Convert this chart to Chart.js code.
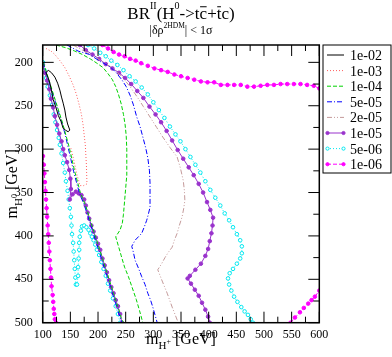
<!DOCTYPE html>
<html>
<head>
<meta charset="utf-8">
<script src="https://cdn.jsdelivr.net/npm/chart.js@4.4.1/dist/chart.umd.min.js"></script>
<style>
  html, body { margin: 0; padding: 0; background: #fff; }
</style>
</head>
<body>
<canvas id="contours" width="392" height="357"></canvas>
<script>
// contour levels of BR and the axis ticks
const levels = ['1e-02', '1e-03', '1e-04', '5e-05', '2e-05', '1e-05', '5e-06', '1e-06'];
const xTicks = [100, 150, 200, 250, 300, 350, 400, 450, 500, 550, 600];
const yTicks = [200, 250, 300, 350, 400, 450, 500];

// 1e-02
const br1e02LoopX = [110, 116, 122, 127, 131, 134, 137, 140, 142, 145, 149, 146, 141, 137, 133, 128, 124, 119, 116, 113, 110, 106, 110];
const br1e02LoopY = [209, 212, 217, 224, 232, 240, 247, 255, 263, 271, 278, 280, 278, 276, 268, 261, 252, 243, 233, 224, 218, 212, 209];
// 1e-03
const br1e03X = [106, 115, 122, 131, 140, 148, 155, 161, 166, 170, 173, 175, 177, 178, 179, 180, 174, 167, 165, 162, 159, 156, 151];
const br1e03Y = [184, 187, 191, 198, 206, 216, 226, 237, 249, 260, 272, 284, 295, 307, 318, 340, 342, 342, 336, 330, 321, 312, 299];
// 1e-04
const br1e04RightX = [124, 141, 158, 172, 186, 198, 209, 218, 226, 232, 237, 242, 246, 249, 251, 252, 252, 252, 250, 248, 246, 244, 240, 232, 237, 242, 248, 255, 262, 269, 275, 281];
const br1e04RightY = [180, 183, 187, 191, 196, 201, 206, 213, 220, 228, 237, 248, 260, 272, 285, 300, 315, 330, 345, 360, 375, 385, 393, 401, 412, 423, 436, 447, 460, 473, 486, 500];
const br1e04BandX = [101, 106, 112, 118, 124, 130, 136, 142, 148, 153, 158, 163, 168, 173, 178, 183, 188, 193, 198, 203, 208, 213, 218, 223, 228, 233, 238, 242, 246];
const br1e04BandY = [200, 210, 222, 234, 246, 258, 270, 284, 298, 312, 326, 338, 350, 358, 366, 376, 386, 396, 406, 416, 426, 436, 446, 456, 466, 476, 486, 494, 500];
// 5e-05
const br5e05RightX = [144, 164, 185, 204, 222, 233, 243, 251, 258, 264, 270, 276, 281, 286, 290, 293, 294, 294, 294, 291, 288, 284, 279, 273, 267, 261, 264, 267, 273, 279, 285, 290, 295, 299, 303, 307];
const br5e05RightY = [180, 187, 191, 199, 205, 212, 220, 228, 238, 249, 263, 274, 286, 298, 310, 325, 339, 353, 367, 375, 382, 389, 397, 401, 405, 412, 419, 428, 437, 447, 456, 466, 474, 482, 491, 500];
const br5e05BandX = [101, 105, 111, 117, 123, 129, 135, 141, 146, 151, 156, 161, 166, 171, 176, 181, 186, 191, 196, 201, 206, 211, 216, 221, 226, 231, 236, 240, 244];
const br5e05BandY = [200, 210, 222, 234, 246, 258, 270, 284, 298, 312, 326, 338, 350, 358, 366, 376, 386, 396, 406, 416, 426, 436, 446, 456, 466, 476, 486, 494, 500];
// 2e-05
const br2e05RightX = [155, 175, 195, 213, 231, 245, 258, 271, 282, 294, 306, 317, 330, 343, 349, 354, 356, 357, 355, 352, 347, 343, 338, 334, 327, 321, 315, 308, 316, 325, 334, 345];
const br2e05RightY = [180, 187, 194, 201, 209, 218, 228, 240, 251, 263, 275, 286, 298, 309, 322, 336, 347, 359, 368, 378, 388, 397, 405, 413, 419, 425, 432, 439, 452, 466, 482, 500];
// 1e-05
const br1e05RightX = [167, 178, 190, 202, 214, 226, 238, 249, 260, 271, 282, 293, 304, 314, 324, 334, 344, 354, 364, 373, 382, 390, 397, 403, 408, 407, 405, 402, 399, 394, 386, 376, 366, 362, 368, 375, 382, 388, 394, 399, 402];
const br1e05RightY = [180, 186, 191, 196, 202, 207, 212, 218, 225, 233, 241, 251, 260, 269, 279, 290, 301, 311, 321, 330, 340, 350, 361, 370, 379, 388, 397, 406, 415, 423, 432, 439, 446, 449, 455, 462, 469, 477, 485, 493, 500];
const br1e05LeftX = [100.5, 104, 108, 112, 115, 119, 122, 126, 130, 134, 137, 140, 144, 148, 150, 151, 149, 154, 160, 165, 170, 175, 178, 181, 184, 188, 192, 196, 200, 204, 208, 212, 216, 220, 224, 228, 232, 236, 240, 243];
const br1e05LeftY = [203, 212, 221, 231, 242, 252, 262, 272, 282, 291, 300, 307, 315, 324, 334, 346, 358, 352, 349, 351, 353, 358, 365, 373, 380, 388, 395, 402, 409, 416, 426, 434, 442, 451, 459, 466, 474, 481, 490, 500];
// 5e-06
const br5e06RightX = [182, 193, 204, 214, 224, 235, 246, 257, 268, 279, 290, 300, 310, 320, 330, 340, 349, 358, 367, 376, 385, 394, 403, 412, 421, 429, 437, 444, 451, 457, 460, 460, 457, 451, 444, 438, 435, 437, 441, 446, 452, 459, 465, 471, 476, 480];
const br5e06RightY = [180, 184, 189, 193, 198, 203, 209, 216, 222, 229, 237, 246, 255, 264, 274, 283, 291, 300, 309, 318, 327, 337, 347, 356, 365, 374, 382, 390, 398, 405, 412, 420, 426, 432, 438, 443, 449, 456, 463, 470, 476, 482, 487, 491, 496, 500];
const br5e06LeftX = [100.5, 103, 106, 109, 113, 117, 120, 123, 126, 129, 131, 134, 137, 140, 142, 145, 147, 149, 151, 152, 153, 155, 156, 157, 158, 159, 160, 162, 164, 164, 165, 166, 166, 167, 169, 171, 175, 179, 183, 186, 189, 192, 195, 198, 202, 206, 210, 214, 218, 222, 227, 232, 236, 240];
const br5e06LeftY = [200, 209, 218, 228, 238, 249, 260, 269, 278, 287, 295, 305, 316, 327, 337, 348, 358, 368, 378, 388, 398, 408, 418, 428, 438, 448, 456, 456, 446, 436, 426, 416, 408, 401, 394, 389, 388, 390, 393, 397, 401, 405, 410, 416, 422, 430, 438, 446, 455, 463, 472, 481, 490, 500];
// 1e-06
const br1e06TopX = [208, 218, 228, 238, 248, 258, 268, 278, 290, 302, 314, 326, 338, 350, 362, 374, 386, 398, 410, 422, 434, 446, 458, 470, 482, 494, 506, 518, 530, 542, 554, 566, 578, 590, 600];
const br1e06TopY = [180, 184, 188, 191, 193, 196, 198, 201, 204, 207, 209, 211, 214, 216, 218, 220, 222, 223, 223, 226, 226, 226, 226, 228, 228, 227, 226, 226, 225, 225, 225, 225, 226, 227, 230];
const br1e06LeftX = [100.5, 102, 103, 104, 105, 106, 107, 108, 109, 110, 111, 112, 113, 114, 115, 116, 118, 119, 120, 121, 122, 124];
const br1e06LeftY = [308, 318, 328, 338, 348, 358, 368, 378, 388, 398, 408, 418, 428, 438, 448, 458, 468, 476, 484, 490, 496, 500];
const br1e06CornerX = [548, 556, 565, 572, 580, 586, 592, 600];
const br1e06CornerY = [500, 494, 488, 483, 478, 474, 470, 463];

const segments = {
    '1e-02': [[br1e02LoopX, br1e02LoopY]],
    '1e-03': [[br1e03X, br1e03Y]],
    '1e-04': [[br1e04RightX, br1e04RightY], [br1e04BandX, br1e04BandY]],
    '5e-05': [[br5e05RightX, br5e05RightY], [br5e05BandX, br5e05BandY]],
    '2e-05': [[br2e05RightX, br2e05RightY]],
    '1e-05': [[br1e05RightX, br1e05RightY], [br1e05LeftX, br1e05LeftY]],
    '5e-06': [[br5e06RightX, br5e06RightY], [br5e06LeftX, br5e06LeftY]],
    '1e-06': [[br1e06TopX, br1e06TopY], [br1e06LeftX, br1e06LeftY], [br1e06CornerX, br1e06CornerY]]
};

const styles = {
    '1e-02': { color: '#000000', dash: [], marker: null },
    '1e-03': { color: '#ff5c5c', dash: [1, 2], marker: null },
    '1e-04': { color: '#00d200', dash: [4, 2], marker: null },
    '5e-05': { color: '#0000ff', dash: [5, 2, 1, 2], marker: null },
    '2e-05': { color: '#c49a9a', dash: [5, 2, 1, 2, 1, 2], marker: null },
    '1e-05': { color: '#9932cc', dash: [], marker: 'fill' },
    '5e-06': { color: '#00e8f0', dash: [1, 2], marker: 'open' },
    '1e-06': { color: '#ff00ff', dash: [4, 2], marker: 'fill' }
};

const SERIF = '"Liberation Serif", "Times New Roman", serif';

const datasets = [];
levels.forEach(function (lv) {
    const st = styles[lv];
    segments[lv].forEach(function (seg) {
        datasets.push({
            label: lv,
            data: seg[0].map((x, i) => ({ x: x, y: seg[1][i] })),
            showLine: true,
            borderColor: st.color,
            borderWidth: 1,
            borderDash: st.dash,
            pointRadius: st.marker ? 1.8 : 0,
            pointHoverRadius: 0,
            pointStyle: 'circle',
            pointBackgroundColor: st.marker === 'open' ? '#ffffff' : st.color,
            pointBorderColor: st.color,
            pointBorderWidth: 1
        });
    });
});

// draw text made of runs: [text, size, dy, overline]
function drawRuns(ctx, runs, x0, base, center) {
    let total = 0;
    runs.forEach(function (r) {
        ctx.font = r[1] + 'px ' + SERIF;
        r.w = ctx.measureText(r[0]).width;
        total += r.w;
    });
    let x = center ? x0 - total / 2 : x0;
    runs.forEach(function (r) {
        ctx.font = r[1] + 'px ' + SERIF;
        ctx.fillText(r[0], x, base + r[2]);
        if (r[3]) {
            const oy = base + r[2] - r[1] * 0.72;
            ctx.beginPath();
            ctx.moveTo(x + 0.5, oy);
            ctx.lineTo(x + r.w - 0.5, oy);
            ctx.lineWidth = 1;
            ctx.stroke();
        }
        x += r.w;
    });
}

const decor = {
    id: 'decor',
    afterDraw(chart) {
        const ctx = chart.ctx;
        const a = chart.chartArea;
        const xs = chart.scales.x, ys = chart.scales.y;
        ctx.save();
        ctx.strokeStyle = '#000';
        ctx.fillStyle = '#000';
        ctx.setLineDash([]);

        // frame
        ctx.lineWidth = 1.5;
        ctx.strokeRect(a.left, a.top, a.right - a.left, a.bottom - a.top);

        // inward ticks, major every 50, minor every 25
        ctx.lineWidth = 1;
        ctx.beginPath();
        for (let v = 100; v <= 600; v += 25) {
            const px = xs.getPixelForValue(v);
            const len = v % 50 === 0 ? 11 : 6;
            ctx.moveTo(px, a.bottom); ctx.lineTo(px, a.bottom - len);
            ctx.moveTo(px, a.top); ctx.lineTo(px, a.top + len);
        }
        for (let v = 200; v <= 500; v += 25) {
            const py = ys.getPixelForValue(v);
            const len = v % 50 === 0 ? 11 : 6;
            ctx.moveTo(a.left, py); ctx.lineTo(a.left + len, py);
            ctx.moveTo(a.right, py); ctx.lineTo(a.right - len, py);
        }
        ctx.stroke();

        const cx = (a.left + a.right) / 2;
        ctx.textBaseline = 'alphabetic';
        ctx.textAlign = 'left';

        // title and subtitle
        drawRuns(ctx, [['BR', 17, 0], ['II', 10, -10], ['(H', 17, 0], ['0', 10, -10],
            ['->t', 17, 0], ['c', 17, 0, true], ['+', 17, 0], ['t', 17, 0, true], ['c)', 17, 0]], cx, 19, true);
        drawRuns(ctx, [['|\u03b4\u03c1', 12, 0], ['2HDM', 7.5, -6], ['| < 1\u03c3', 12, 0]], cx, 34, true);

        // x axis title
        drawRuns(ctx, [['m', 16, 0], ['H', 11, 5], ['+', 8, 0], [' [GeV]', 16, 0]], cx, 344, true);

        // y axis title, rotated
        ctx.save();
        ctx.translate(17, (a.top + a.bottom) / 2);
        ctx.rotate(-Math.PI / 2);
        drawRuns(ctx, [['m', 16, 0], ['H', 11, 5], ['0', 8, 0], [' [GeV]', 16, 0]], 0, 0, true);
        ctx.restore();

        // legend
        const lx = 323, ly = 45, lw = 68, lh = 128;
        ctx.lineWidth = 1;
        ctx.strokeStyle = '#000';
        ctx.strokeRect(lx, ly, lw, lh);
        levels.forEach(function (lv, i) {
            const st = styles[lv];
            const y = 55 + i * 15.6;
            ctx.save();
            ctx.strokeStyle = st.color;
            ctx.setLineDash(st.dash);
            ctx.beginPath();
            ctx.moveTo(327, y);
            ctx.lineTo(344, y);
            ctx.stroke();
            ctx.setLineDash([]);
            if (st.marker) {
                [327.5, 343.5].forEach(function (mx) {
                    ctx.beginPath();
                    ctx.arc(mx, y, 1.6, 0, Math.PI * 2);
                    ctx.fillStyle = st.marker === 'open' ? '#fff' : st.color;
                    ctx.fill();
                    ctx.stroke();
                });
            }
            ctx.restore();
            ctx.font = '14px ' + SERIF;
            ctx.fillStyle = '#000';
            ctx.fillText(lv, 350, y + 5);
        });
        ctx.restore();
    }
};

const tickFont = { family: SERIF, size: 12 };

new Chart(document.getElementById('contours'), {
    type: 'scatter',
    data: { datasets: datasets },
    options: {
        responsive: false,
        animation: false,
        devicePixelRatio: 1,
        layout: { autoPadding: false, padding: { top: 45, right: 72.7, left: 0, bottom: 0 } },
        plugins: { legend: { display: false }, tooltip: { enabled: false }, title: { display: false } },
        scales: {
            x: {
                type: 'linear', min: 100, max: 600,
                afterBuildTicks: s => { s.ticks = xTicks.map(v => ({ value: v })); },
                afterFit: s => { s.height = 34.3; },
                ticks: { font: tickFont, color: '#000', padding: 5, maxRotation: 0, autoSkip: false },
                grid: { display: false, drawTicks: false },
                border: { display: false }
            },
            y: {
                type: 'linear', min: 180, max: 500, reverse: true,
                afterBuildTicks: s => { s.ticks = yTicks.map(v => ({ value: v })); },
                afterFit: s => { s.width = 42.7; },
                ticks: { font: tickFont, color: '#000', padding: 10, autoSkip: false },
                grid: { display: false, drawTicks: false },
                border: { display: false }
            }
        }
    },
    plugins: [decor]
});
</script>
</body>
</html>
